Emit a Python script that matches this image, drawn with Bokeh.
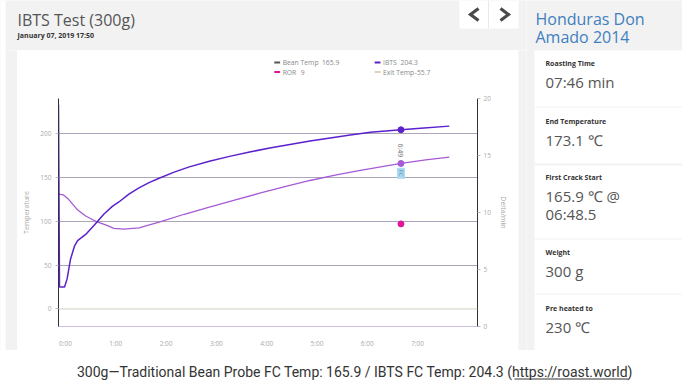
import math
from bokeh.plotting import figure
from bokeh.layouts import row, column
from bokeh.models import Range1d, LinearAxis, FixedTicker, Span, Grid
from bokeh.core.properties import value
from bokeh.embed import file_html
from bokeh.resources import INLINE

# ---------------- data ----------------
ibts_t = [0.00, 0.02, 0.12, 0.17, 0.24, 0.32, 0.38, 0.54, 0.70, 0.90, 1.07, 1.20, 1.40, 1.60,
          1.80, 2.00, 2.30, 2.60, 3.00, 3.40, 3.80, 4.20, 4.60, 5.00, 5.40, 5.80, 6.20, 6.81,
          7.20, 7.77]
ibts_temp = [233, 25, 25, 34, 57, 72, 78, 85, 95, 108, 117, 122, 131, 138,
             144, 149, 156, 162, 168.5, 174, 179, 183.5, 187.5, 191.5, 195, 198.5, 201.5, 204.3,
             206, 208.5]
bean_t = [0.00, 0.10, 0.20, 0.37, 0.54, 0.74, 0.95, 1.10, 1.30, 1.60, 2.00, 2.50, 3.00, 3.50,
          4.00, 4.50, 5.00, 5.50, 6.00, 6.81, 7.30, 7.77]
bean_temp = [131, 130, 125, 113.5, 106, 100, 95.5, 92, 91, 92.5, 99, 108, 116, 124,
             132, 139.5, 146.5, 152.5, 158, 165.9, 170, 173.1]

fc_time = 6 + 48.5 / 60
fc_label = "6:49"
ibts_fc = 204.3
bean_fc = 165.9
ror_fc = 9
exit_fc = -55.7

x_ticks = [0, 1, 2, 3, 4, 5, 6, 7]
x_tick_labels = ["0:00", "1:00", "2:00", "3:00", "4:00", "5:00", "6:00", "7:00"]
temp_ticks = [0, 50, 100, 150, 200]
ror_ticks = [0, 5, 10, 15, 20]

legend_names = ["Bean Temp", "IBTS", "ROR", "Exit Temp"]
legend_values = [bean_fc, ibts_fc, ror_fc, exit_fc]

side_labels = ["Roasting Time", "End Temperature", "First Crack Start", "Weight", "Pre heated to"]
side_values = [["07:46 min"], ["173.1 ℃"], ["165.9 ℃ @", "06:48.5"], ["300 g"], ["230 ℃"]]

title = "IBTS Test (300g)"
date_txt = "January 07, 2019 17:50"
bean_name = ["Honduras Don", "Amado 2014"]
caption = "300g\u2014Traditional Bean Probe FC Temp: 165.9 / IBTS FC Temp: 204.3 (https://roast.world)"

# ---------------- style ----------------
FONT = "Open Sans"
GRAY = "#f2f2f2"
IBTS_C = "#5b21cc"
BEAN_C = "#a65ad6"
ROR_C = "#e0179b"
EXIT_C = "#d8d4bd"
LEG_BEAN_C = "#555555"
TICK_C = "#aaaaaa"
X_LABEL_SHIFT = 0.139   # tick labels sit just right of their tick (left-aligned look)


def pix_fig(w, h, bg):
    f = figure(width=w, height=h, x_range=Range1d(0, w), y_range=Range1d(h, 0),
               output_backend="svg", toolbar_location=None, min_border=0,
               x_axis_type=None, y_axis_type=None,
               background_fill_color=bg, border_fill_color=bg, outline_line_color=None)
    f.grid.visible = False
    return f


def txt(f, x, y, s, size, color, style="normal", align="left", baseline="middle", font=FONT):
    f.text(x=[x], y=[y], text=[s], text_font=value(font), text_font_size=size,
           text_color=color, text_font_style=style, text_align=align, text_baseline=baseline)


# ---------------- header ----------------
header = pix_fig(526, 50, GRAY)
header.quad(left=[0], right=[5], top=[0], bottom=[50], fill_color="white", line_color=None)
txt(header, 17, 19.5, title, "16px", "#555555")
txt(header, 17, 35, date_txt, "7px", "#333333", style="bold")
header.quad(left=[459], right=[518], top=[0], bottom=[28], fill_color="white", line_color=None)
header.segment(x0=[488], y0=[0], x1=[488], y1=[28], line_color="#e8e8e8", line_width=1)
header.multi_line(xs=[[478, 470, 478], [500, 508, 500]], ys=[[8, 14, 20], [8, 14, 20]],
                  line_color="#4a4a4a", line_width=3.2, line_join="miter")

# ---------------- legend strip ----------------
leg = pix_fig(501, 40, "white")
leg_cols = [LEG_BEAN_C, IBTS_C, ROR_C, EXIT_C]
leg_x = [258, 378, 258, 378]
leg_y = [12, 12, 21.5, 21.5]
leg_val_x = [315, 409, 289.7, 426]
leg.quad(left=leg_x, right=[v + 7 for v in leg_x], top=[v - 1 for v in leg_y],
         bottom=[v + 1 for v in leg_y], fill_color=leg_cols, line_color=None)
for i in range(4):
    txt(leg, leg_x[i] + 10, leg_y[i], legend_names[i], "6.8px", "#8a8a8a")
    txt(leg, leg_val_x[i], leg_y[i], f"{legend_values[i]:g}", "6.8px", "#8a8a8a")

# ---------------- chart ----------------
p = figure(width=501, height=260, x_range=Range1d(0, 8.33), y_range=Range1d(-20, 240),
           output_backend="svg", toolbar_location=None,
           min_border_left=41, min_border_right=41, min_border_top=8, min_border_bottom=22,
           x_axis_type=None, y_axis_type=None, outline_line_color=None,
           background_fill_color="white", border_fill_color="white")
p.extra_y_ranges = {"ror": Range1d(0, 20)}
p.extra_x_ranges = {"lbl": Range1d(-X_LABEL_SHIFT, 8.33 - X_LABEL_SHIFT)}

yl = LinearAxis(ticker=FixedTicker(ticks=temp_ticks), axis_label="Temperature")
yr = LinearAxis(y_range_name="ror", ticker=FixedTicker(ticks=ror_ticks), axis_label="Delta/min")
xb = LinearAxis(x_range_name="lbl", ticker=FixedTicker(ticks=x_ticks),
                major_label_overrides={t: l for t, l in zip(x_ticks, x_tick_labels)})
for ax in (yl, yr, xb):
    ax.major_label_text_font = FONT
    ax.major_label_text_font_size = "6.5px"
    ax.major_label_text_color = TICK_C
    ax.axis_label_text_font = FONT
    ax.axis_label_text_font_size = "7px"
    ax.axis_label_text_color = TICK_C
    ax.axis_label_text_font_style = "normal"
    ax.minor_tick_line_color = None
    ax.major_tick_in = 0
    ax.major_tick_out = 3
    ax.major_tick_line_color = "#bbbbbb"
yl.axis_line_color = "#333333"
yr.axis_line_color = "#333333"
yl.major_label_standoff = 4
yl.axis_label_standoff = 6
yr.major_label_standoff = 3
yr.axis_label_standoff = 5
xb.axis_line_color = "#cdbfe0"
xb.major_tick_line_color = None
xb.major_label_standoff = 9
p.add_layout(yl, "left")
p.add_layout(yr, "right")
p.add_layout(xb, "below")

g = Grid(dimension=1, ticker=FixedTicker(ticks=[50, 100, 150, 200]),
         grid_line_color="#aca6ba", grid_line_width=1)
p.add_layout(g)
p.add_layout(Span(location=0, dimension="width", line_color="#d3cfc3", line_width=1))

p.line(bean_t, bean_temp, line_color=BEAN_C, line_width=1.3)
p.line(ibts_t, ibts_temp, line_color=IBTS_C, line_width=1.5)
p.scatter([fc_time], [ibts_fc], size=6, fill_color=IBTS_C, line_color=IBTS_C)
p.scatter([fc_time], [bean_fc], size=6, fill_color=BEAN_C, line_color=BEAN_C)
p.scatter([fc_time], [ror_fc], size=6, fill_color=ROR_C, line_color=ROR_C, y_range_name="ror")
p.text(x=[fc_time], y=[bean_fc + 15], text=[fc_label], angle=-math.pi / 2,
       text_font=value(FONT), text_font_size="7px", text_color="#777777",
       text_align="center", text_baseline="middle")
p.rect(x=[fc_time], y=[bean_fc - 11], width=8, height=11, width_units="screen",
       height_units="screen", fill_color="#a9d9ef", line_color=None)
p.text(x=[fc_time], y=[bean_fc - 11], text=["FC"], angle=-math.pi / 2,
       text_font=value(FONT), text_font_size="6px", text_color="#5a8db0",
       text_align="center", text_baseline="middle")

gap_l = pix_fig(17, 300, GRAY)
gap_l.quad(left=[0], right=[5], top=[0], bottom=[300], fill_color="white", line_color=None)
gap_r = pix_fig(8, 300, GRAY)
left_col = column(header, row(gap_l, column(leg, p), gap_r))

# ---------------- sidebar ----------------
side = pix_fig(156, 350, GRAY)
txt(side, 9, 18.5, bean_name[0], "16px", "#3f7fbf")
txt(side, 9, 36.5, bean_name[1], "16px", "#3f7fbf")
card_top = [50, 107, 165, 239, 294]
card_bot = [106, 163, 238, 293, 350]
side.quad(left=[8] * 5, right=[156] * 5, top=card_top, bottom=card_bot,
          fill_color="white", line_color=None)
lab_y = [63, 121, 177, 252, 308]
for i in range(5):
    txt(side, 19, lab_y[i], side_labels[i], "7px", "#333333", style="bold")
    for j, v in enumerate(side_values[i]):
        txt(side, 19, lab_y[i] + 18.5 + 18 * j, v, "15px", "#555555")

# ---------------- caption ----------------
cap = pix_fig(682, 38, "white")
txt(cap, 354.5, 21, caption, "14px", "#333333", align="center", font="Roboto")
cap.segment(x0=[514], y0=[28.5], x1=[628], y1=[28.5], line_color="#333333", line_width=1)

layout = column(row(left_col, side), cap)
open("out.html", "w").write(file_html(layout, INLINE))
